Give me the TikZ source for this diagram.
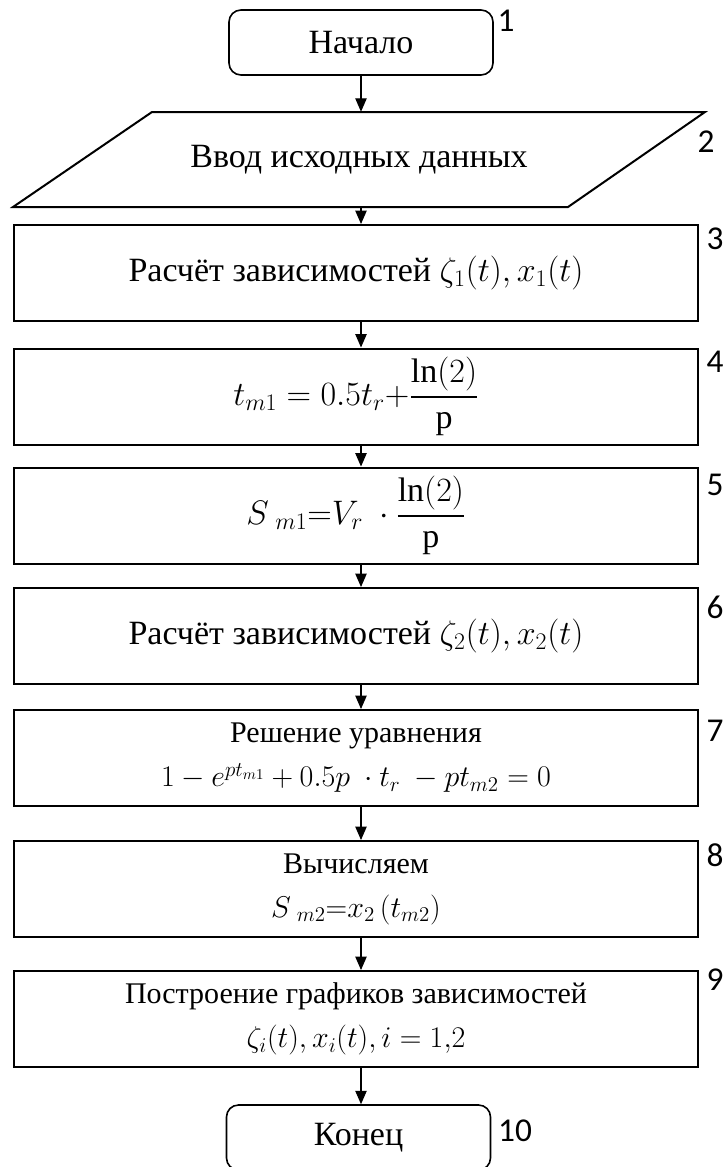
\documentclass[tikz,border=0pt]{standalone}
\usepackage{fix-cm}
\usepackage{amsmath}
\usepackage{fontspec}
\setmainfont{Liberation Serif}
\newfontfamily\lblfont{Carlito}
\usetikzlibrary{arrows.meta}
\begin{document}
\begin{tikzpicture}[x=0.75pt,y=-0.75pt,
  box/.style={draw, line width=1.5pt, minimum width=513pt, minimum height=72pt,
    align=center, inner sep=0pt, font=\fontsize{25.5}{33}\selectfont},
  box2/.style={box, font=\fontsize{22.5}{33}\selectfont},
  term/.style={draw, line width=1.2pt, rounded corners=9pt, minimum width=198pt,
    minimum height=48.75pt, inner sep=0pt, font=\fontsize{25.5}{28}\selectfont},
  lbl/.style={font=\lblfont\fontsize{25}{25}\selectfont, inner sep=0pt},
  arr/.style={-{Triangle[width=8.5pt,length=10pt]}, line width=0.8pt}]
\useasboundingbox (0,0) rectangle (728,1167);

\coordinate (ax) at (361,0);

\node[term] (start) at (361,42.5) {Начало};

\node[minimum width=416pt, minimum height=71.25pt, inner sep=0pt,
  font=\fontsize{25.5}{28}\selectfont] (in) at (359,159.5) {Ввод исходных данных};
\draw[line width=1.5pt] (152,112) -- (705,112) -- (568,207) -- (13,207) -- cycle;

\node[box] (b3) at (356,273) {Расчёт зависимостей $\zeta_1(t), x_1(t)$};
\node[box] (b4) at (356,396.5) {$t_{m1} = 0.5t_r{+}\dfrac{\ln(2)}{\mathrm{p}}$};
\node[box] (b5) at (356,515.5) {$S_{\ m1}{=}V_r\ \cdot\dfrac{\ln(2)}{\mathrm{p}}$};
\node[box] (b6) at (356,636) {Расчёт зависимостей $\zeta_2(t), x_2(t)$};
\node[box2] (b7) at (356,758) {Решение уравнения\\ $1-e^{pt_{m1}}+0.5p\ \cdot t_r\ -pt_{m2}=0$};
\node[box2] (b8) at (356,889) {Вычисляем\\ $S_{\ m2}{=}x_2\,(t_{m2})$};
\node[box2] (b9) at (356,1019) {Построение графиков зависимостей\\ $\zeta_i(t), x_i(t), i=1{,}2$};

\node[term] (end) at (358.5,1137.5) {Конец};

\draw[arr] (start.south) -- (start.south |- in.north);
\draw[arr] (in.south -| ax) -- (b3.north -| ax);
\draw[arr] (b3.south -| ax) -- (b4.north -| ax);
\draw[arr] (b4.south -| ax) -- (b5.north -| ax);
\draw[arr] (b5.south -| ax) -- (b6.north -| ax);
\draw[arr] (b6.south -| ax) -- (b7.north -| ax);
\draw[arr] (b7.south -| ax) -- (b8.north -| ax);
\draw[arr] (b8.south -| ax) -- (b9.north -| ax);
\draw[arr] (b9.south -| ax) -- (end.north -| ax);

\node[lbl] (l1) at (506,21) {1};
\node[lbl] (l2) at (706,142) {2};
\node[lbl] (l3) at (715,239) {3};
\node[lbl] (l4) at (715,362) {4};
\node[lbl] (l5) at (715,485) {5};
\node[lbl] (l6) at (715,607) {6};
\node[lbl] (l7) at (715,731) {7};
\node[lbl] (l8) at (715,855) {8};
\node[lbl] (l9) at (715,980) {9};
\node[lbl] (l10) at (515,1131) {10};
\end{tikzpicture}
\end{document}
